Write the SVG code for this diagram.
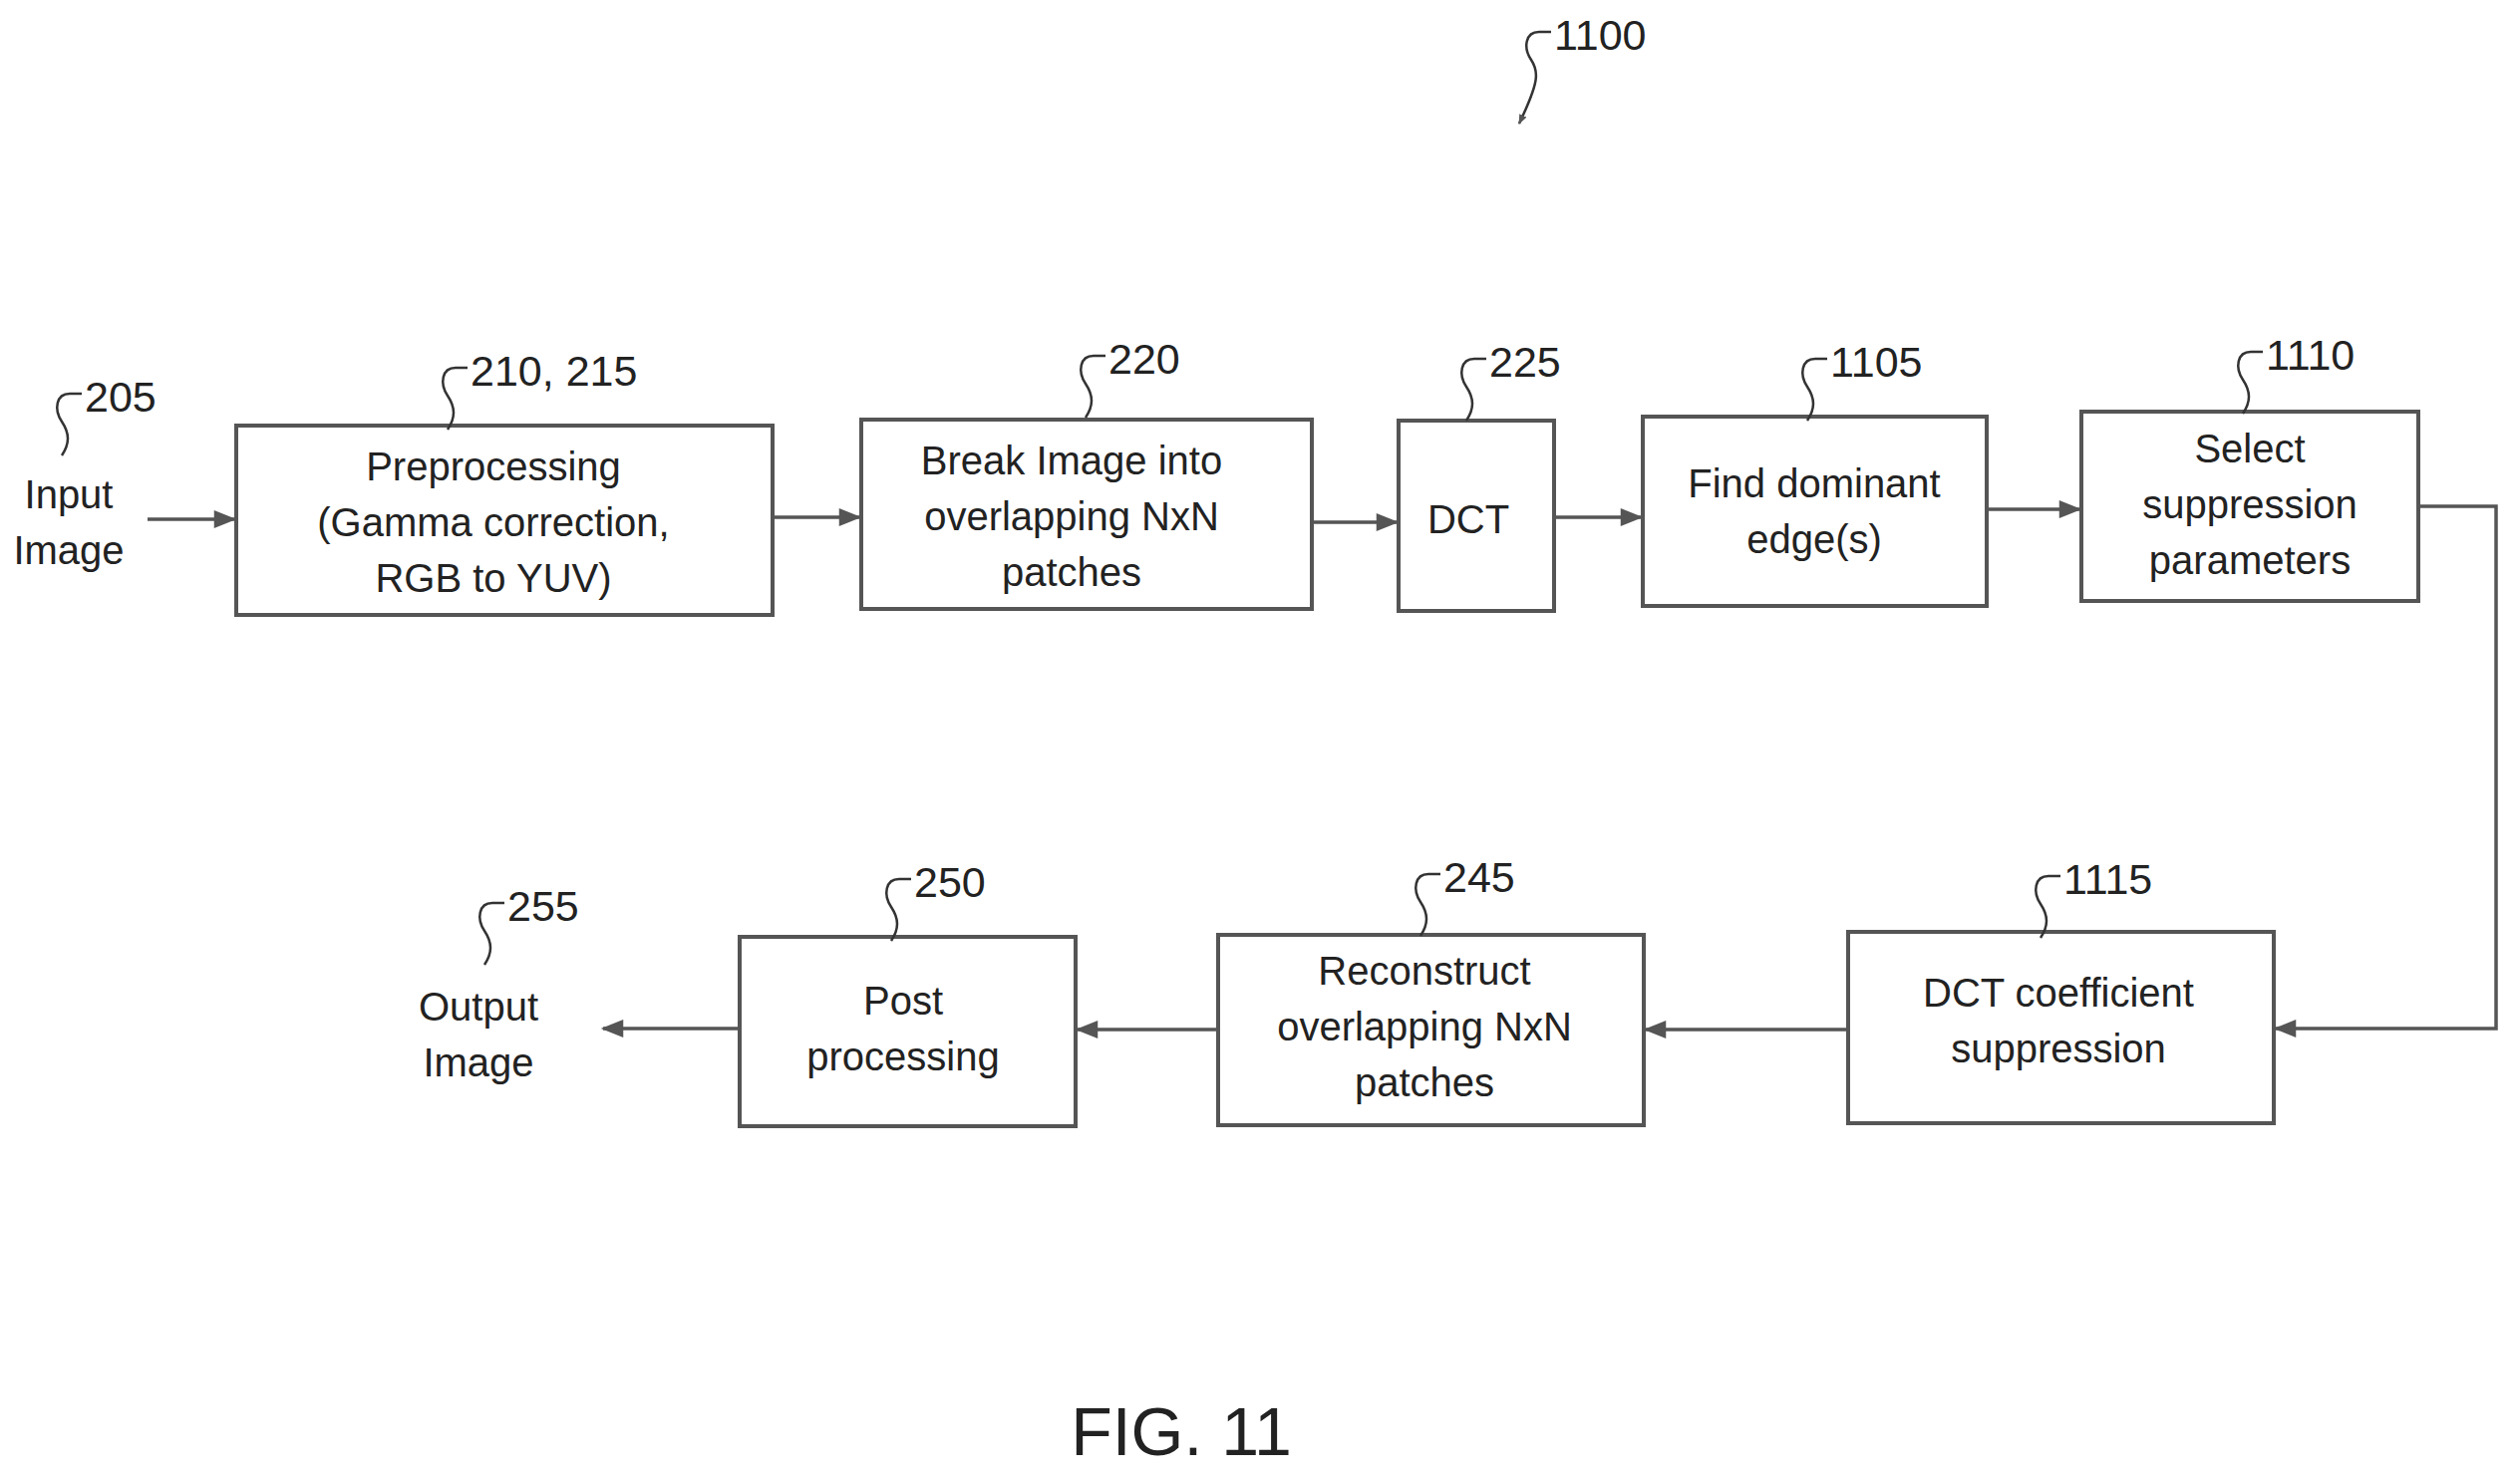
<svg xmlns="http://www.w3.org/2000/svg" width="2528" height="1488" viewBox="0 0 2528 1488">
<style>
.b{fill:#fff;stroke:#555;stroke-width:4}
.t{font-family:"Liberation Sans",Arial,sans-serif;font-size:40px;fill:#222;text-anchor:middle}
.n{font-family:"Liberation Sans",Arial,sans-serif;font-size:43px;fill:#222}
.c{fill:none;stroke:#555;stroke-width:3.5}
.s{fill:none;stroke:#333;stroke-width:2.5}
</style>
<defs><marker id="a" markerWidth="10" markerHeight="8" refX="9" refY="4" orient="auto" markerUnits="userSpaceOnUse" viewBox="0 0 10 8"><path d="M0,0 L10,4 L0,8 z" fill="#555" transform="scale(1)"/></marker>
<marker id="h" viewBox="0 0 10 8" refX="9" refY="4" markerWidth="24" markerHeight="18" orient="auto" markerUnits="userSpaceOnUse"><path d="M0,0 L10,4 L0,8 z" fill="#555"/></marker></defs>
<g id="connectors">
<path class="c" d="M148,521 H235" marker-end="url(#h)"/>
<path class="c" d="M775,519 H862" marker-end="url(#h)"/>
<path class="c" d="M1316,524 H1401" marker-end="url(#h)"/>
<path class="c" d="M1559,519 H1646" marker-end="url(#h)"/>
<path class="c" d="M1993,511 H2086" marker-end="url(#h)"/>
<path class="c" d="M2426,508 H2504 V1032 H2283" marker-end="url(#h)"/>
<path class="c" d="M1854,1033 H1651" marker-end="url(#h)"/>
<path class="c" d="M1222,1033 H1081" marker-end="url(#h)"/>
<path class="c" d="M742,1032 H605" marker-end="url(#h)"/>
</g>
<g id="pre"><rect class="b" x="237" y="427" width="538" height="190"/><text class="t" x="495" y="482">Preprocessing</text><text class="t" x="495" y="538">(Gamma correction,</text><text class="t" x="495" y="594">RGB to YUV)</text></g>
<g id="break"><rect class="b" x="864" y="421" width="452" height="190"/><text class="t" x="1075" y="476">Break Image into</text><text class="t" x="1075" y="532">overlapping NxN</text><text class="t" x="1075" y="588">patches</text></g>
<g id="dct"><rect class="b" x="1403" y="422" width="156" height="191"/><text class="t" x="1473" y="535">DCT</text></g>
<g id="find"><rect class="b" x="1648" y="418" width="345" height="190"/><text class="t" x="1820" y="499">Find dominant</text><text class="t" x="1820" y="555">edge(s)</text></g>
<g id="select"><rect class="b" x="2088" y="413" width="338" height="190"/><text class="t" x="2257" y="464">Select</text><text class="t" x="2257" y="520">suppression</text><text class="t" x="2257" y="576">parameters</text></g>
<g id="coeff"><rect class="b" x="1854" y="935" width="427" height="192"/><text class="t" x="2065" y="1010">DCT coefficient</text><text class="t" x="2065" y="1066">suppression</text></g>
<g id="recon"><rect class="b" x="1222" y="938" width="427" height="191"/><text class="t" x="1429" y="988">Reconstruct</text><text class="t" x="1429" y="1044">overlapping NxN</text><text class="t" x="1429" y="1100">patches</text></g>
<g id="post"><rect class="b" x="742" y="940" width="337" height="190"/><text class="t" x="906" y="1018">Post</text><text class="t" x="906" y="1074">processing</text></g>
<g id="input"><text class="t" x="69" y="510">Input</text><text class="t" x="69" y="566">Image</text></g>
<g id="output"><text class="t" x="480" y="1024">Output</text><text class="t" x="480" y="1080">Image</text></g>
<g id="refs">
<text class="n" x="85" y="413">205</text><path class="s" d="M82,395 h-12 c-14,0 -16,16 -8,28 c8,12 8,22 0,34"/>
<text class="n" x="472" y="387">210, 215</text><path class="s" d="M469,369 h-12 c-14,0 -16,16 -8,28 c8,12 8,22 0,34"/>
<text class="n" x="1112" y="375">220</text><path class="s" d="M1109,357 h-12 c-14,0 -16,16 -8,28 c8,12 8,22 0,34"/>
<text class="n" x="1494" y="378">225</text><path class="s" d="M1491,360 h-12 c-14,0 -16,16 -8,28 c8,12 8,22 0,34"/>
<text class="n" x="1836" y="378">1105</text><path class="s" d="M1833,360 h-12 c-14,0 -16,16 -8,28 c8,12 8,22 0,34"/>
<text class="n" x="2273" y="371">1110</text><path class="s" d="M2270,353 h-12 c-14,0 -16,16 -8,28 c8,12 8,22 0,34"/>
<text class="n" x="2070" y="897">1115</text><path class="s" d="M2067,879 h-12 c-14,0 -16,16 -8,28 c8,12 8,22 0,34"/>
<text class="n" x="1448" y="895">245</text><path class="s" d="M1445,877 h-12 c-14,0 -16,16 -8,28 c8,12 8,22 0,34"/>
<text class="n" x="917" y="900">250</text><path class="s" d="M914,882 h-12 c-14,0 -16,16 -8,28 c8,12 8,22 0,34"/>
<text class="n" x="509" y="924">255</text><path class="s" d="M506,906 h-12 c-14,0 -16,16 -8,28 c8,12 8,22 0,34"/>
<text class="n" x="1559" y="50">1100</text><path class="s" d="M1556,32 h-12 c-14,0 -16,16 -8,28 c8,12 8,22 -12,64" marker-end="url(#a)"/>
</g>
<text x="1185" y="1460" style="font-family:'Liberation Sans',Arial,sans-serif;font-size:68px;fill:#222;text-anchor:middle">FIG. 11</text>
</svg>
